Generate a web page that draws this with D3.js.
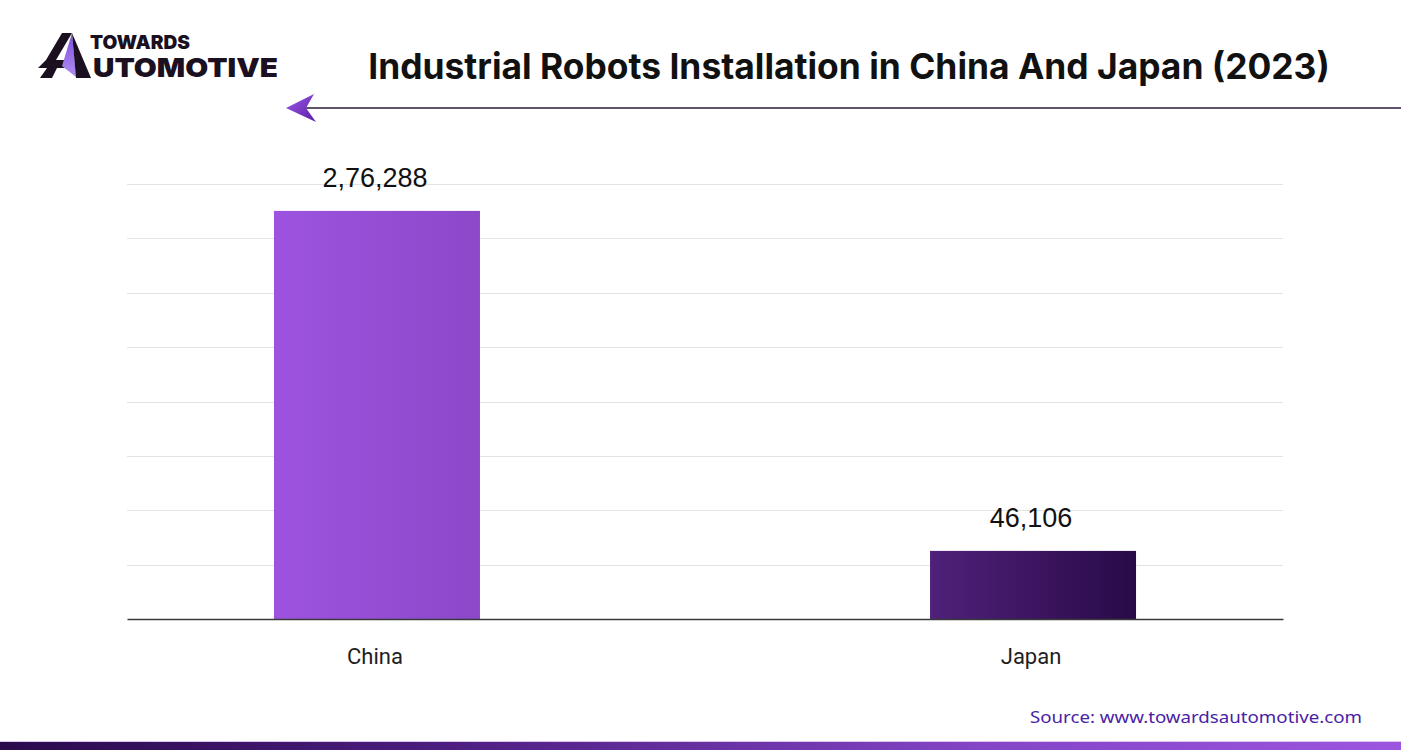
<!DOCTYPE html>
<html>
<head>
<meta charset="utf-8">
<script src="https://cdn.jsdelivr.net/npm/d3@7/dist/d3.min.js"></script>
<style>
  html, body { margin: 0; padding: 0; background: #fff; }
  svg { display: block; }
</style>
</head>
<body>
<svg id="chart" width="1401" height="750"></svg>
<script>
// ---- data ----
const categories = ["China", "Japan"];
const values = [276288, 46106];
const valueLabels = ["2,76,288", "46,106"];
const yMax = 294500;
const gridCount = 8;

const title = "Industrial Robots Installation in China And Japan (2023)";
const source = "Source: www.towardsautomotive.com";

const svg = d3.select("#chart");
const defs = svg.append("defs");

function lg(id, stops, x1 = "0%", x2 = "100%", y1 = "0%", y2 = "0%") {
  const g = defs.append("linearGradient").attr("id", id)
    .attr("x1", x1).attr("x2", x2).attr("y1", y1).attr("y2", y2);
  stops.forEach(([o, c]) => g.append("stop").attr("offset", o).attr("stop-color", c));
}
lg("gChina", [["0%", "#9d53df"], ["100%", "#8c48c9"]]);
lg("gJapan", [["0%", "#4f2179"], ["100%", "#290a48"]]);
lg("gStrip", [["0%", "#2a0a4b"], ["30%", "#4a1c7c"], ["70%", "#8445c6"], ["100%", "#9c55df"]]);
lg("gArrow", [["0%", "#9b5ae6"], ["100%", "#5a1ea8"]], "0%", "100%", "0%", "100%");
lg("gFacet", [["0%", "#7d4fe0"], ["100%", "#b08cf0"]], "0%", "0%", "0%", "100%");

// ---- scales ----
const x = d3.scaleBand().domain(categories).range([127, 1283])
  .paddingInner(0.686).paddingOuter(0.224).align(0.5);
const y = d3.scaleLinear().domain([0, yMax]).range([619, 184]);

// gridlines
const gridVals = d3.range(1, gridCount + 1).map(i => i * yMax / gridCount);
svg.append("g").selectAll("line").data(gridVals).join("line")
  .attr("x1", 127).attr("x2", 1283)
  .attr("y1", d => Math.round(y(d)) + 0.5).attr("y2", d => Math.round(y(d)) + 0.5)
  .attr("stroke", "#e3e3e3").attr("stroke-width", 1);

// bars
const fills = ["url(#gChina)", "url(#gJapan)"];
svg.append("g").selectAll("rect").data(values).join("rect")
  .attr("x", (d, i) => x(categories[i]))
  .attr("width", x.bandwidth())
  .attr("y", d => y(d))
  .attr("height", d => y(0) - y(d))
  .attr("fill", (d, i) => fills[i]);

// baseline axis
const xAxis = d3.axisBottom(x).tickSize(0).tickPadding(0);
const ax = svg.append("g").attr("transform", `translate(0,${y(0)})`).call(xAxis);
ax.select(".domain").attr("stroke", "#3a3a3a").attr("stroke-width", 1.3);
ax.selectAll(".tick text")
  .attr("y", 45).attr("dy", 0)
  .attr("x", -2)
  .attr("font-family", "Roboto, 'Liberation Sans', sans-serif")
  .attr("font-size", 22).attr("fill", "#1e1e1e");

// value labels
svg.append("g").selectAll("text").data(values).join("text")
  .attr("x", (d, i) => x(categories[i]) + x.bandwidth() / 2 - 2)
  .attr("y", d => y(d) - 24)
  .attr("text-anchor", "middle")
  .attr("font-family", "'Liberation Sans', Arial, sans-serif")
  .attr("font-size", 27).attr("fill", "#111")
  .text((d, i) => valueLabels[i]);

// title
const t = svg.append("text")
  .attr("x", 849).attr("y", 79)
  .attr("text-anchor", "middle")
  .attr("font-family", "Inter, Roboto, sans-serif")
  .attr("font-weight", 700).attr("font-size", 34).attr("fill", "#111")
  .text(title);
const tw = t.node().getComputedTextLength();
t.attr("font-size", 34 * 962 / tw);

// arrow line
svg.append("line").attr("x1", 306).attr("x2", 1401).attr("y1", 108).attr("y2", 108)
  .attr("stroke", "#2a1a3c").attr("stroke-width", 1.6);
svg.append("path").attr("d", "M286,108 L314,94 L306,108 L316,122 Z").attr("fill", "url(#gArrow)");

// logo
const logo = svg.append("g");
logo.append("path").attr("d", "M62,33 L72,33 L56,60 L70,60 L65,68 L38,68 L46,60 Z").attr("fill", "#1a1020");
logo.append("path").attr("d", "M40,78 L47,68 L57,68 L52,78 Z").attr("fill", "#1a1020");
logo.append("path").attr("d", "M72,33 L76,77 L62,66 Z").attr("fill", "url(#gFacet)");
logo.append("path").attr("d", "M72,33 L91,78 L76,78 Z").attr("fill", "#1a1020");
logo.append("text").attr("x", 90).attr("y", 49)
  .attr("font-family", "Inter, Roboto, sans-serif").attr("font-weight", 900)
  .attr("font-size", 19).attr("fill", "#1a1020")
  .attr("textLength", 100).attr("lengthAdjust", "spacingAndGlyphs")
  .text("TOWARDS");
logo.append("text").attr("x", 93).attr("y", 77)
  .attr("font-family", "Inter, Roboto, sans-serif").attr("font-weight", 900)
  .attr("font-size", 26).attr("fill", "#1a1020")
  .attr("textLength", 185).attr("lengthAdjust", "spacingAndGlyphs")
  .text("UTOMOTIVE");

// source
svg.append("text").attr("x", 1362).attr("y", 723)
  .attr("text-anchor", "end")
  .attr("font-family", "'Noto Sans', 'Open Sans', sans-serif")
  .attr("font-weight", 400).attr("font-size", 16).attr("fill", "#4a22a6")
  .attr("textLength", 332).attr("lengthAdjust", "spacingAndGlyphs")
  .text(source);

// bottom strip
svg.append("rect").attr("x", 0).attr("y", 741).attr("width", 1401).attr("height", 1).attr("fill", "#dcc3f0");
svg.append("rect").attr("x", 0).attr("y", 742).attr("width", 1401).attr("height", 8).attr("fill", "url(#gStrip)");
</script>
</body>
</html>
